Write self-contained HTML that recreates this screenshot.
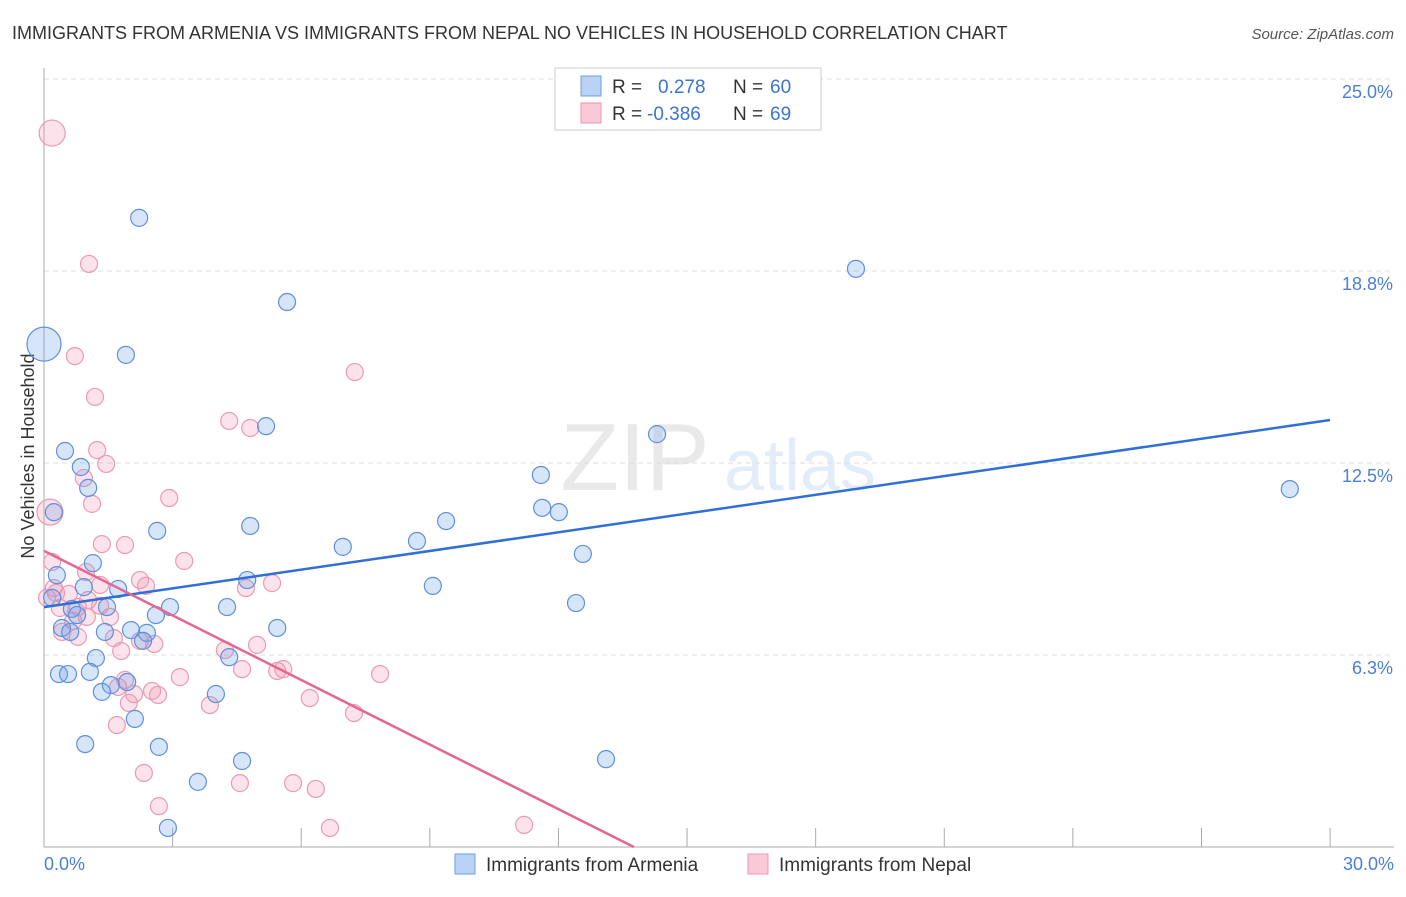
<!DOCTYPE html>
<html><head><meta charset="utf-8"><style>
body{margin:0;background:#fff;font-family:"Liberation Sans",sans-serif;}
svg text{font-family:"Liberation Sans",sans-serif;}
</style></head><body>
<svg id="c" width="1406" height="892" xmlns="http://www.w3.org/2000/svg">
<text x="12" y="39" font-size="18" fill="#333">IMMIGRANTS FROM ARMENIA VS IMMIGRANTS FROM NEPAL NO VEHICLES IN HOUSEHOLD CORRELATION CHART</text>
<text x="1394" y="39" font-size="15" fill="#555" font-style="italic" text-anchor="end">Source: ZipAtlas.com</text>
<text x="34" y="456" font-size="18" fill="#333" text-anchor="middle" transform="rotate(-90 34 456)">No Vehicles in Household</text>
<g opacity="0.18">
<text x="635" y="490" font-size="96" fill="#888" font-family="Liberation Serif" text-anchor="middle">ZIP</text>
<text x="800" y="490" font-size="72" fill="#6a9be0" text-anchor="middle">atlas</text>
</g>
<g id="grid"></g><g id="axes"></g><g id="pts"></g><g id="lines"></g>
<g>
<rect x="555" y="68" width="266" height="62" fill="#fff" stroke="#ccc"/>
<rect x="581" y="76" width="20" height="20" fill="#b9d3f5" stroke="#6f9ee0"/>
<rect x="581" y="103" width="20" height="20" fill="#f9c9d7" stroke="#ec94b0"/>
<text x="612" y="93" font-size="19" fill="#333">R = </text><text x="658" y="93" font-size="19" fill="#3a74d4">0.278</text>
<text x="733" y="93" font-size="19" fill="#333">N = </text><text x="770" y="93" font-size="19" fill="#3a74d4">60</text>
<text x="612" y="120" font-size="19" fill="#333">R = </text><text x="647" y="120" font-size="19" fill="#3a74d4">-0.386</text>
<text x="733" y="120" font-size="19" fill="#333">N = </text><text x="770" y="120" font-size="19" fill="#3a74d4">69</text>
</g>
<g>
<rect x="455" y="854" width="20" height="20" fill="#b9d3f5" stroke="#6f9ee0"/>
<text x="486" y="871" font-size="19" fill="#333">Immigrants from Armenia</text>
<rect x="748" y="854" width="20" height="20" fill="#f9c9d7" stroke="#ec94b0"/>
<text x="779" y="871" font-size="19" fill="#333">Immigrants from Nepal</text>
</g>
<text x="44" y="870" font-size="18" fill="#4a7fd6">0.0%</text>
<text x="1394" y="870" font-size="18" fill="#4a7fd6" text-anchor="end">30.0%</text>
</svg>
<script>
const yTicks=[25,18.75,12.5,6.25];
const yTickLabels=["25.0%","18.8%","12.5%","6.3%"];
const xTicks=[3,6,9,12,15,18,21,24,27,30];
const armX=[2.22,5.67,1.91,18.94,0,5.18,14.30,0.49,0.86,1.03,11.59,0.23,11.62,12.01,9.38,2.64,4.81,29.06,8.70,6.97,12.57,1.14,0.30,4.74,9.07,0.93,1.73,0.19,1.47,0.65,2.94,4.27,12.41,2.61,0.77,0.42,5.44,2.03,1.42,2.40,0.61,2.31,4.32,1.21,0.35,0.56,1.07,1.56,1.94,1.35,4.01,2.12,0.96,2.68,4.62,13.11,3.59,2.89];
const armY=[20.48,17.74,16.02,18.82,16.37,13.70,13.44,12.89,12.37,11.69,12.11,10.90,11.04,10.90,10.61,10.29,10.45,11.65,9.96,9.77,9.54,9.24,8.85,8.69,8.50,8.46,8.40,8.11,7.81,7.75,7.81,7.81,7.94,7.55,7.55,7.13,7.13,7.06,7.00,6.97,7.00,6.71,6.18,6.15,5.63,5.63,5.70,5.27,5.37,5.05,4.98,4.17,3.35,3.26,2.80,2.86,2.12,0.62];
const armBig=[4];
const nepX=[0.19,1.05,0.72,7.25,1.19,4.32,4.81,1.24,1.45,0.93,2.92,1.12,0.14,1.89,1.35,3.27,0.19,0.98,2.24,5.32,2.38,4.71,0.28,0.58,1.31,0.07,0.79,0.37,1.00,1.54,1.31,0.42,0.79,1.63,2.24,2.57,1.80,4.22,4.97,5.58,5.44,4.62,7.84,3.17,1.89,1.73,2.52,2.66,2.10,1.98,3.87,6.20,7.23,1.70,2.33,4.57,5.81,6.34,2.68,6.67,11.20,0.68,0.23,1.03];
const nepY=[23.24,18.98,15.98,15.46,14.65,13.87,13.64,12.92,12.47,12.01,11.36,11.17,10.90,9.83,9.86,9.31,9.28,8.95,8.69,8.59,8.50,8.43,8.27,8.24,8.53,8.11,7.81,7.78,7.49,7.49,7.85,7.00,6.84,6.80,6.71,6.61,6.38,6.41,6.58,5.79,5.73,5.79,5.63,5.53,5.44,5.21,5.08,4.95,4.98,4.69,4.62,4.85,4.36,3.97,2.41,2.08,2.08,1.89,1.33,0.62,0.72,7.36,8.43,8.04];
const nepBig=[0,12];
const armTrend=[[0,7.81],[30,13.9]];
const nepTrend=[[0,9.64],[13.76,0]];
const X=v=>44+v*42.87, Y=v=>847-v*30.72;
const NS="http://www.w3.org/2000/svg";
function mk(t,a,p){const e=document.createElementNS(NS,t);for(const k in a)e.setAttribute(k,a[k]);document.getElementById(p).appendChild(e);return e;}
yTicks.forEach((t,i)=>{
 const l=mk('line',{x1:44,x2:1394,y1:Y(t),y2:Y(t),stroke:'#ddd','stroke-dasharray':'5,4'},'grid');
 
 
 const tx=mk('text',{x:1393,y:Y(t)+19,'font-size':18,fill:'#4a7fd6','text-anchor':'end'},'grid');tx.textContent=yTickLabels[i];
 
 
});
const ax=mk('line',{x1:44,x2:1394,y1:847,y2:847,stroke:'#aaa'},'axes');


const ay=mk('line',{x1:44,x2:44,y1:68,y2:847,stroke:'#aaa'},'axes');


xTicks.forEach(t=>{const l=mk('line',{x1:X(t),x2:X(t),y1:828,y2:847,stroke:'#aaa'},'axes');
 
 });
function pts(xs,ys,big,fill,stroke,name){xs.forEach((x,i)=>{
 const r=big.indexOf(i)>=0?(name==='armenia-point'?17:13):8.5;
 const c=mk('circle',{cx:X(x),cy:Y(ys[i]),r:r,fill:fill,stroke:stroke,'stroke-width':1.2},'pts');
 
 });}
pts(nepX,nepY,nepBig,'rgba(244,150,180,0.28)','#eb9ab3','nepal-point');
pts(armX,armY,armBig,'rgba(110,160,235,0.28)','#5f90dc','armenia-point');
const l1=mk('line',{x1:X(armTrend[0][0]),y1:Y(armTrend[0][1]),x2:X(armTrend[1][0]),y2:Y(armTrend[1][1]),stroke:'#2f6fd6','stroke-width':2.5},'lines');


const l2=mk('line',{x1:X(nepTrend[0][0]),y1:Y(nepTrend[0][1]),x2:X(nepTrend[1][0]),y2:Y(nepTrend[1][1]),stroke:'#e5668f','stroke-width':2.5},'lines');


</script>
</body></html>
